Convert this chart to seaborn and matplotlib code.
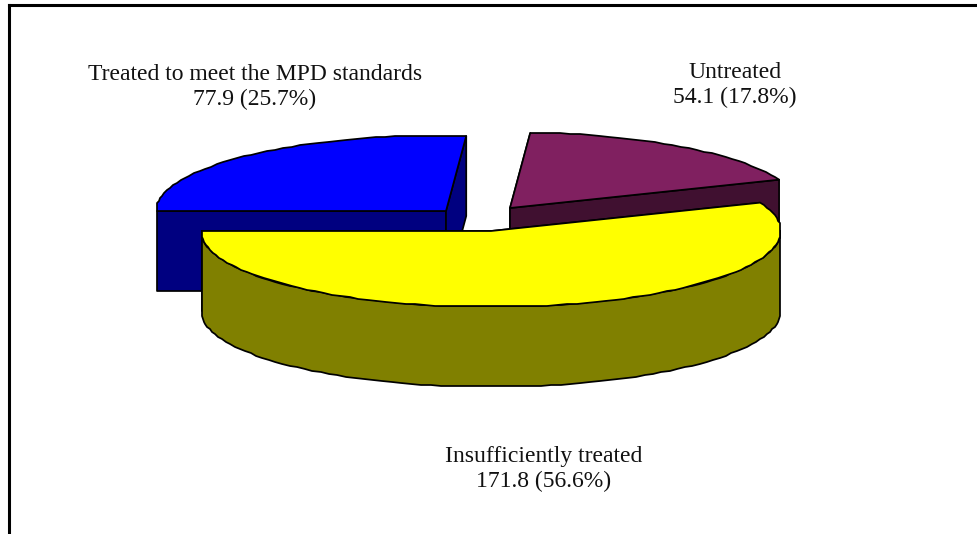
import numpy as np
import matplotlib
matplotlib.use("Agg")
import matplotlib.pyplot as plt
from matplotlib.patches import Polygon
import seaborn as sns

# Patient counts per treatment group, in pie order (clockwise from the top)
categories = ["Untreated", "Insufficiently treated", "Treated to meet the MPD standards"]
values = [54.1, 171.8, 77.9]
percents = [17.8, 56.6, 25.7]

top_colors = ["#802060", "#FFFF00", "#0000FF"]
side_colors = ["#401030", "#808000", "#000080"]

sns.set_theme(style="white")
plt.rcParams["font.family"] = ["Liberation Serif", "DejaVu Serif"]

W, H = 978, 534
fig = plt.figure(figsize=(W / 100, H / 100), dpi=100, facecolor="white")
ax = fig.add_axes([9 / W, 0, (W - 9) / W, (H - 5) / H])
ax.set_xlim(9, W)
ax.set_ylim(H, 5)
ax.set_xticks([])
ax.set_yticks([])
sns.despine(ax=ax, top=False, right=True, bottom=True)
for side in ("left", "top"):
    ax.spines[side].set_linewidth(2.2)
    ax.spines[side].set_color("black")

# The rim ellipse is slightly larger than its bounding box and gets squared off by it
BOX_X, BOX_Y, DEPTH = 289.0, 75.0, 80.0
RX, RY = 290.0, 76.0
START = 86.0
STEP = 2.0
# Wedge apex of each exploded slice on the drawing surface
centers = [(510, 208), (491, 231), (446, 211)]
EDGE = dict(edgecolor="black", linewidth=1.25, joinstyle="round")


def rim(cx, cy, a0, a1):
    """Points along the elliptical rim between two angles (degrees), coarsely rasterised."""
    n = max(2, int(abs(a1 - a0) / STEP) + 1)
    t = np.radians(np.linspace(a0, a1, n))
    s = np.sin(t)
    s = np.where(np.abs(s) < 0.05, 0.0, s)
    dx = np.clip(RX * np.cos(t), -BOX_X, BOX_X)
    dy = np.clip(RY * s, -BOX_Y, BOX_Y)
    pts = np.column_stack([cx + dx, cy - dy])
    pts[1:-1] = np.round(pts[1:-1])
    return pts


def add(points, color):
    ax.add_patch(Polygon(points, closed=True, facecolor=color, **EDGE))


def drop(points):
    return points + np.array([0.0, DEPTH])


total = sum(values)
sweeps = [v / total * 360.0 for v in values]
starts = START - np.concatenate([[0.0], np.cumsum(sweeps)[:-1]])
ends = starts - np.array(sweeps)

# Back slices go first so the large front slice overlaps them
for i in (2, 0, 1):
    cx, cy = centers[i]
    a0, a1 = starts[i], ends[i]
    apex = np.array([[cx, cy]], dtype=float)
    arc = rim(cx, cy, a0, a1)
    first, last = arc[[0]], arc[[-1]]

    # Cut faces of the wedge
    for end in (first, last):
        add(np.vstack([apex, end, drop(end), drop(apex)]), side_colors[i])

    # Outer wall, only where the rim faces the viewer
    lo, hi = max(a1, -180.0), min(a0, 0.0)
    if hi > lo:
        wall = rim(cx, cy, lo, hi)
        add(np.vstack([wall, drop(wall)[::-1]]), side_colors[i])

    add(np.vstack([apex, arc]), top_colors[i])

# Two-line labels beside each slice
label_pos = [(735, 85), (544, 469), (255, 87)]
for name, val, pct, (x, y) in zip(categories, values, percents, label_pos):
    ax.text(x, y, f"{name}\n{val} ({pct}%)", ha="center", va="center",
            fontsize=17, color="#111111", linespacing=1.2)

fig.savefig("out.png", dpi=100)
